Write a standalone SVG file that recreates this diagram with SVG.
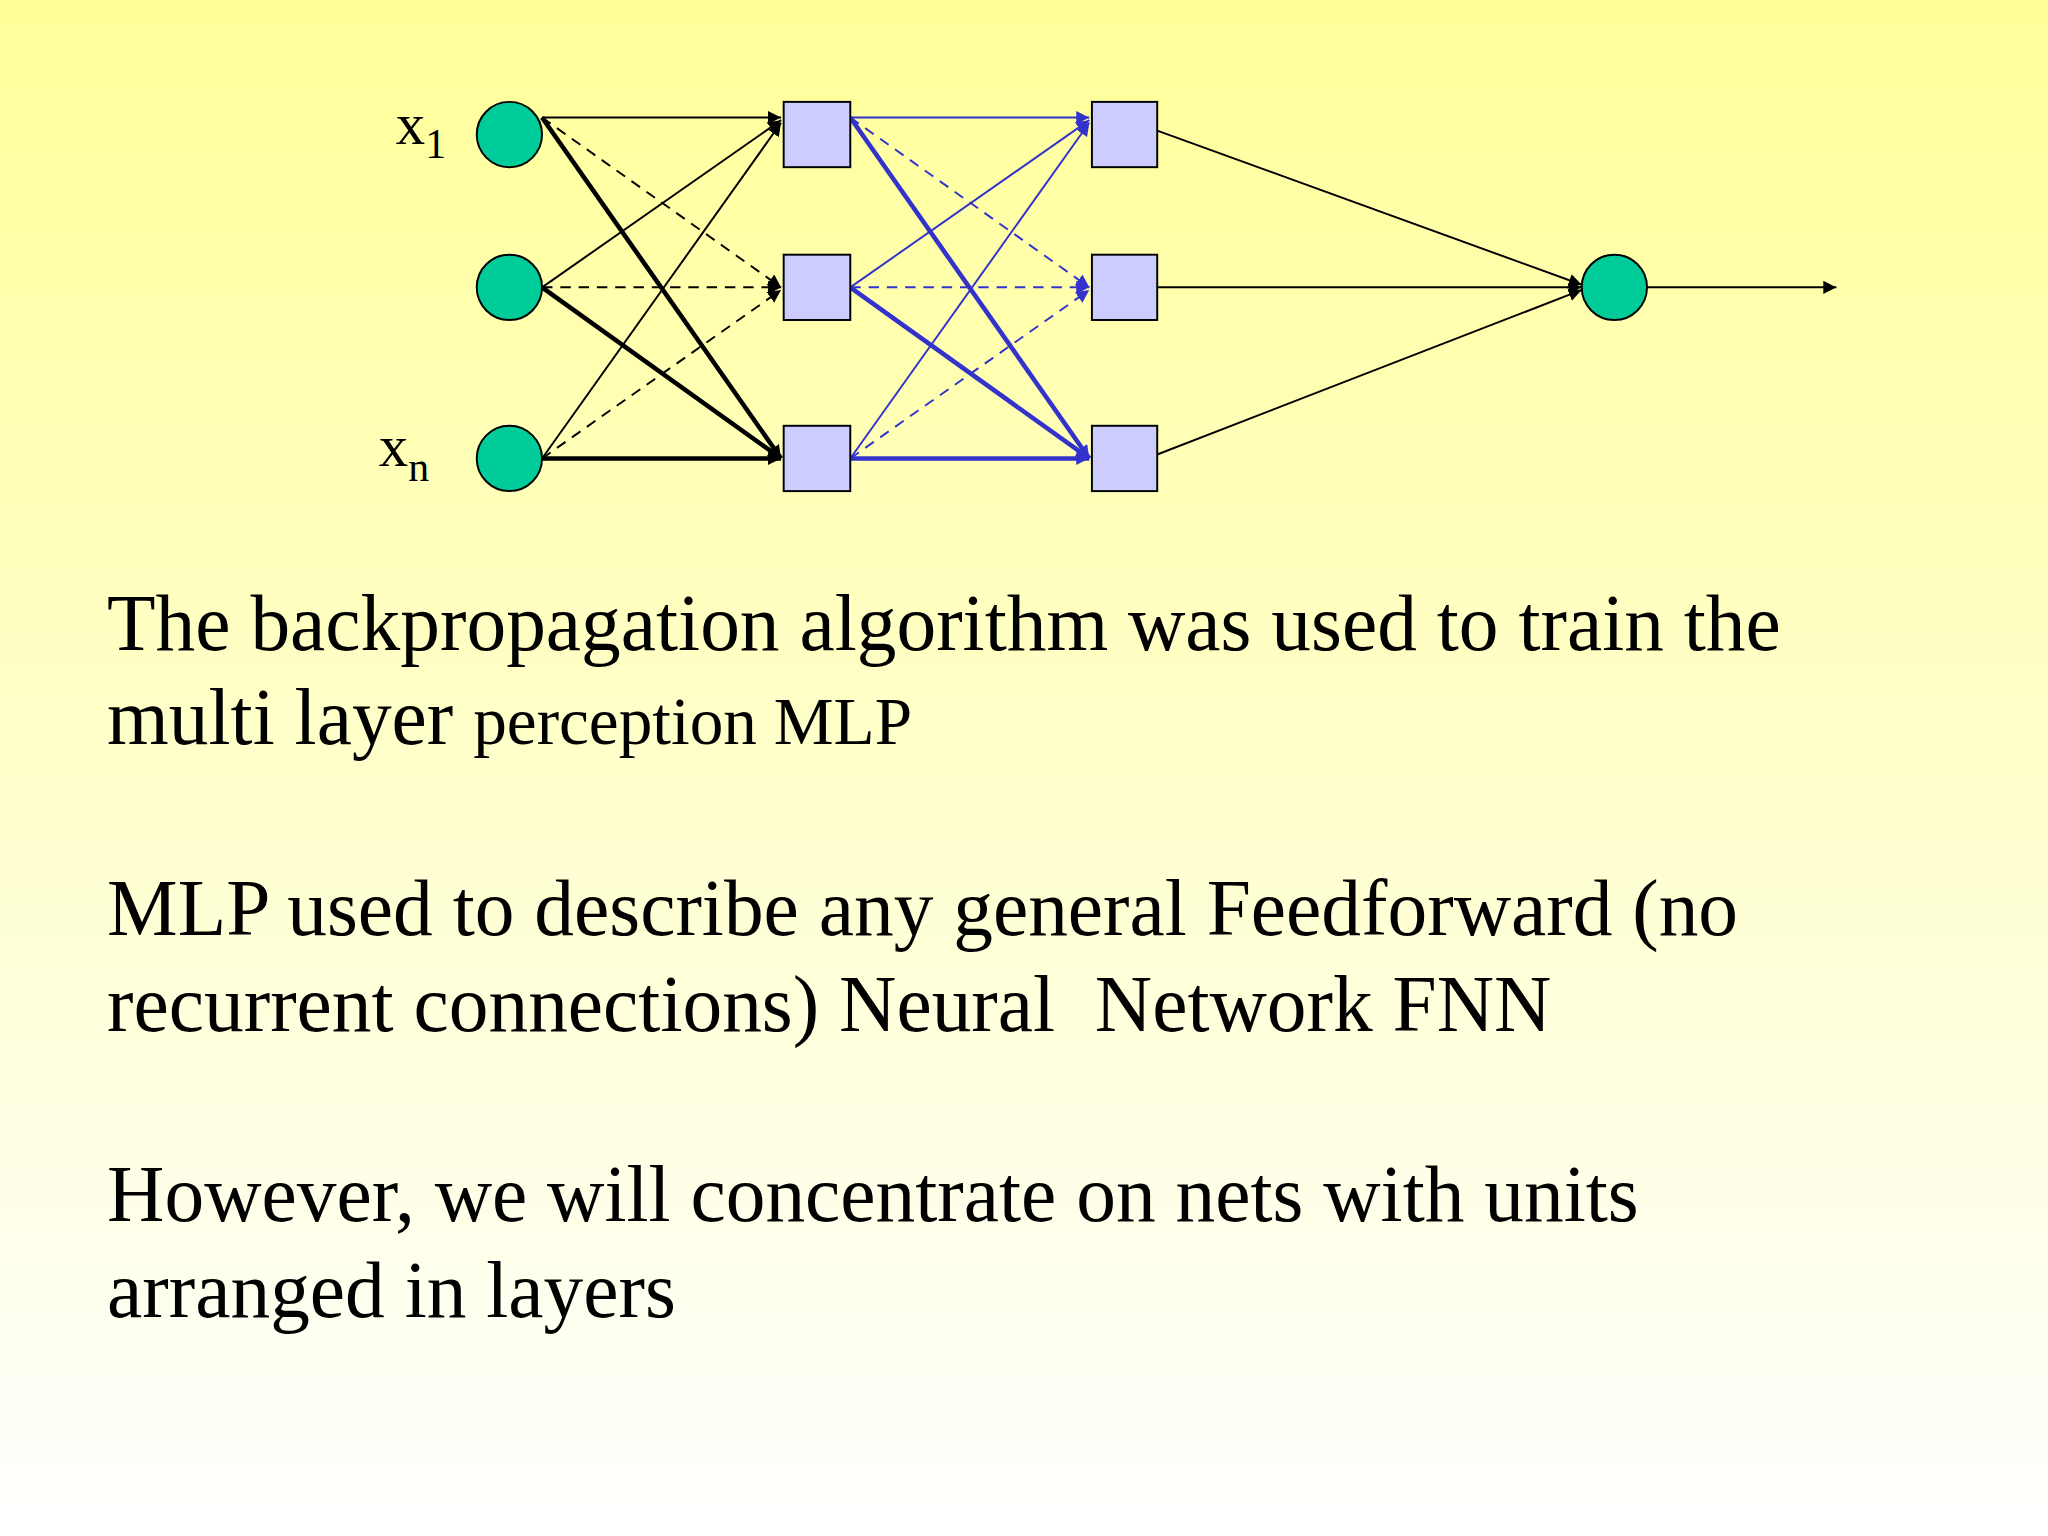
<svg xmlns="http://www.w3.org/2000/svg" width="2048" height="1536" viewBox="0 0 2048 1536">
<defs>
<linearGradient id="bg" x1="0" y1="0" x2="0" y2="1">
<stop offset="0" stop-color="#FFFF99"/><stop offset="1" stop-color="#FFFFFF"/>
</linearGradient>
<marker id="ak" viewBox="0 0 10 10" refX="10" refY="5" markerWidth="10" markerHeight="10" markerUnits="userSpaceOnUse" orient="auto"><path d="M0,0 L10,5 L0,10 z" fill="#000"/></marker>
<marker id="ab" viewBox="0 0 10 10" refX="10" refY="5" markerWidth="10" markerHeight="10" markerUnits="userSpaceOnUse" orient="auto"><path d="M0,0 L10,5 L0,10 z" fill="#3333CC"/></marker>
</defs>
<style>
.c{fill:#00CC99;stroke:#000;stroke-width:1.5}
.s{fill:#CCCCFF;stroke:#000;stroke-width:1.5}
.k{stroke:#000;fill:none;marker-end:url(#ak)}
.b{stroke:#3333CC;fill:none;marker-end:url(#ab)}
.t{stroke-width:1.5}.d{stroke-width:1.5;stroke-dasharray:8 6}.w{stroke-width:3.5}
text{font-family:"Liberation Serif","Times New Roman",serif;fill:#000}
</style>
<rect width="2048" height="1536" fill="url(#bg)"/>
<g transform="scale(1.30612)">
<g id="connectors">
<line class="k t" x1="415" y1="90" x2="598" y2="90"/>
<line class="k d" x1="415" y1="90" x2="598" y2="220"/>
<line class="k w" x1="415" y1="90" x2="598" y2="351"/>
<line class="k t" x1="415" y1="220" x2="598" y2="92"/>
<line class="k d" x1="415" y1="220" x2="598" y2="220"/>
<line class="k w" x1="415" y1="220" x2="598" y2="351"/>
<line class="k t" x1="415" y1="351" x2="598" y2="94"/>
<line class="k d" x1="415" y1="351" x2="598" y2="222"/>
<line class="k w" x1="415" y1="351" x2="598" y2="351"/>
<line class="b t" x1="651" y1="90" x2="834" y2="90"/>
<line class="b d" x1="651" y1="90" x2="834" y2="220"/>
<line class="b w" x1="651" y1="90" x2="834" y2="351"/>
<line class="b t" x1="651" y1="220" x2="834" y2="92"/>
<line class="b d" x1="651" y1="220" x2="834" y2="220"/>
<line class="b w" x1="651" y1="220" x2="834" y2="351"/>
<line class="b t" x1="651" y1="351" x2="834" y2="94"/>
<line class="b d" x1="651" y1="351" x2="834" y2="222"/>
<line class="b w" x1="651" y1="351" x2="834" y2="351"/>
<line class="k t" x1="886" y1="100" x2="1211" y2="218"/>
<line class="k t" x1="886" y1="220" x2="1211" y2="220"/>
<line class="k t" x1="886" y1="348" x2="1211" y2="222"/>
<line class="k t" x1="1261" y1="220" x2="1406" y2="220"/>
</g>
<g id="in1"><circle class="c" cx="390" cy="103" r="25"/><text x="303" y="110" font-size="45">x<tspan font-size="32" dy="11">1</tspan></text></g>
<g id="in2"><circle class="c" cx="390" cy="220" r="25"/></g>
<g id="inn"><circle class="c" cx="390" cy="351" r="25"/><text x="290" y="357" font-size="45">x<tspan font-size="32" dy="11">n</tspan></text></g>
<g id="h11"><rect class="s" x="600" y="78" width="51" height="50"/></g>
<g id="h12"><rect class="s" x="600" y="195" width="51" height="50"/></g>
<g id="h13"><rect class="s" x="600" y="326" width="51" height="50"/></g>
<g id="h21"><rect class="s" x="836" y="78" width="50" height="50"/></g>
<g id="h22"><rect class="s" x="836" y="195" width="50" height="50"/></g>
<g id="h23"><rect class="s" x="836" y="326" width="50" height="50"/></g>
<g id="out"><circle class="c" cx="1236" cy="220" r="25"/></g>
<g id="body">
<text x="82" y="498" font-size="60.8">The backpropagation algorithm was used to train the</text>
<text x="82" y="570" font-size="60.8">multi layer <tspan font-size="51.5">perception MLP</tspan></text>
<text x="82" y="716" font-size="60.8">MLP used to describe any general Feedforward (no</text>
<text x="82" y="789" font-size="60.8" xml:space="preserve">recurrent connections) Neural  Network FNN</text>
<text x="82" y="935" font-size="60.8">However, we will concentrate on nets with units</text>
<text x="82" y="1008" font-size="60.8">arranged in layers</text>
</g>
</g>
</svg>
